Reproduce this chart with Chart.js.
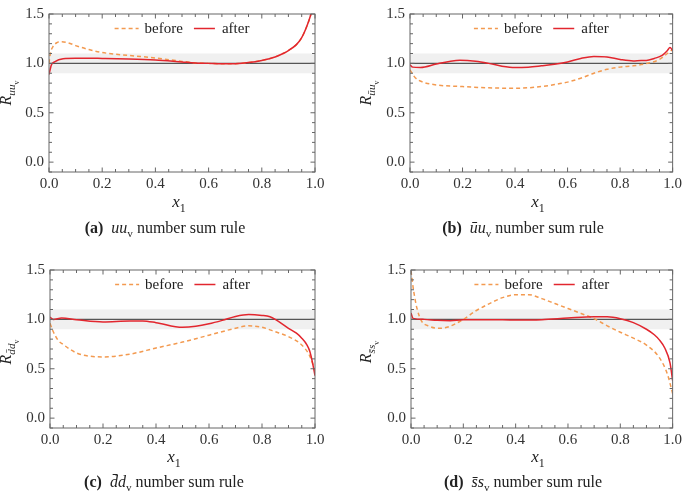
<!DOCTYPE html>
<html>
<head>
<meta charset="utf-8">
<script src="https://cdn.jsdelivr.net/npm/chart.js@4.4.1/dist/chart.umd.min.js"></script>
<style>
  body { margin: 0; background: #fff; width: 685px; height: 491px; position: relative; overflow: hidden;
         font-family: "Liberation Serif", serif; color: #222; }
  canvas { position: absolute; }
  .lbl { position: absolute; font-size: 14px; white-space: nowrap; transform: translate(-50%, -50%); }
  .ytl { transform: translate(-50%, -50%) rotate(-90deg); font-size: 16px; }
  .xtl { font-size: 17px; }
  .cap { font-size: 16px; }
  sub { font-size: 70%; }
</style>
</head>
<body>
<canvas id="chartA" width="342" height="195" style="left:0;top:0"></canvas>
<canvas id="chartB" width="324" height="195" style="left:361px;top:0"></canvas>
<canvas id="chartC" width="342" height="195" style="left:0;top:256px"></canvas>
<canvas id="chartD" width="324" height="195" style="left:361px;top:256px"></canvas>

<div class="lbl ytl" style="left:9px;top:93px"><i>R</i><sub><i>uu</i><sub>v</sub></sub></div>
<div class="lbl ytl" style="left:369px;top:93px"><i>R</i><sub><i>ūu</i><sub>v</sub></sub></div>
<div class="lbl ytl" style="left:9px;top:352px"><i>R</i><sub><i>d̄d</i><sub>v</sub></sub></div>
<div class="lbl ytl" style="left:369px;top:352px"><i>R</i><sub><i>s̄s</i><sub>v</sub></sub></div>

<div class="lbl xtl" style="left:179px;top:204px"><i>x</i><sub>1</sub></div>
<div class="lbl xtl" style="left:538px;top:204px"><i>x</i><sub>1</sub></div>
<div class="lbl xtl" style="left:174px;top:459px"><i>x</i><sub>1</sub></div>
<div class="lbl xtl" style="left:538px;top:459px"><i>x</i><sub>1</sub></div>

<div class="lbl cap" style="left:165px;top:229px"><b>(a)</b>&nbsp; <i>uu</i><sub>v</sub> number sum rule</div>
<div class="lbl cap" style="left:523px;top:229px"><b>(b)</b>&nbsp; <i>ūu</i><sub>v</sub> number sum rule</div>
<div class="lbl cap" style="left:164px;top:483px"><b>(c)</b>&nbsp; <i>d̄d</i><sub>v</sub> number sum rule</div>
<div class="lbl cap" style="left:523px;top:483px"><b>(d)</b>&nbsp; <i>s̄s</i><sub>v</sub> number sum rule</div>

<script>
// axis ticks and reference band
const xTicks = [0, 0.2, 0.4, 0.6, 0.8, 1.0];
const yTicks = [0, 0.5, 1.0, 1.5];
const bandLow = 0.9, bandHigh = 1.1;

// (a) uu_v
const xBeforeA = [0, 0.005, 0.015, 0.03, 0.045, 0.07, 0.1, 0.15, 0.2, 0.3, 0.4, 0.5, 0.55, 0.6, 0.65, 0.7, 0.75, 0.8, 0.85, 0.88, 0.9, 0.93, 0.95, 0.97, 0.985, 0.995];
const yBeforeA = [1.0, 1.1, 1.17, 1.21, 1.22, 1.21, 1.18, 1.14, 1.11, 1.08, 1.055, 1.02, 1.005, 1.0, 0.995, 0.997, 1.008, 1.03, 1.065, 1.1, 1.13, 1.19, 1.26, 1.38, 1.5, 1.6];
const xAfterA = [0, 0.009, 0.021, 0.053, 0.1, 0.2, 0.3, 0.4, 0.5, 0.55, 0.6, 0.65, 0.7, 0.75, 0.8, 0.85, 0.88, 0.9, 0.93, 0.95, 0.97, 0.985, 0.995];
const yAfterA = [0.887, 0.985, 1.016, 1.048, 1.053, 1.05, 1.045, 1.035, 1.015, 1.005, 1.0, 0.995, 0.997, 1.008, 1.03, 1.065, 1.1, 1.13, 1.19, 1.26, 1.38, 1.5, 1.6];

// (b) ubar u_v
const xBeforeB = [0, 0.02, 0.05, 0.1, 0.2, 0.3, 0.4, 0.5, 0.55, 0.6, 0.65, 0.7, 0.75, 0.8, 0.85, 0.9, 0.95, 0.98, 1.0];
const yBeforeB = [0.935, 0.855, 0.81, 0.782, 0.765, 0.752, 0.748, 0.765, 0.785, 0.81, 0.85, 0.9, 0.94, 0.962, 0.975, 0.998, 1.04, 1.1, 1.14];
const xAfterB = [0, 0.01, 0.04, 0.1, 0.15, 0.19, 0.25, 0.3, 0.35, 0.4, 0.45, 0.5, 0.55, 0.6, 0.65, 0.7, 0.75, 0.8, 0.85, 0.88, 0.9, 0.93, 0.96, 0.98, 0.99, 1.0];
const yAfterB = [0.985, 0.962, 0.958, 0.993, 1.02, 1.032, 1.022, 1.0, 0.972, 0.958, 0.962, 0.975, 0.99, 1.015, 1.05, 1.07, 1.065, 1.04, 1.025, 1.03, 1.03, 1.05, 1.08, 1.13, 1.16, 1.13];

// (c) dbar d_v
const xBeforeC = [0, 0.0125, 0.03, 0.05, 0.1, 0.15, 0.2, 0.3, 0.4, 0.5, 0.6, 0.7, 0.75, 0.8, 0.85, 0.9, 0.95, 0.98, 1.0];
const yBeforeC = [0.96, 0.875, 0.79, 0.745, 0.66, 0.627, 0.62, 0.647, 0.71, 0.77, 0.84, 0.91, 0.935, 0.92, 0.875, 0.825, 0.74, 0.63, 0.48];
const xAfterC = [0, 0.012, 0.044, 0.1, 0.2, 0.3, 0.35, 0.4, 0.5, 0.55, 0.6, 0.65, 0.7, 0.75, 0.8, 0.83, 0.85, 0.9, 0.93, 0.95, 0.97, 0.98, 0.99, 1.0];
const yAfterC = [1.023, 1.0, 1.013, 0.997, 0.974, 0.984, 0.984, 0.967, 0.92, 0.93, 0.955, 0.99, 1.03, 1.05, 1.04, 1.026, 1.0, 0.91, 0.86, 0.81, 0.74, 0.68, 0.57, 0.43];

// (d) sbar s_v
const xBeforeD = [0, 0.01, 0.023, 0.04, 0.07, 0.1, 0.13, 0.2, 0.25, 0.3, 0.35, 0.4, 0.45, 0.5, 0.55, 0.6, 0.65, 0.7, 0.75, 0.8, 0.85, 0.9, 0.95, 0.98, 1.0];
const yBeforeD = [1.49, 1.29, 1.11, 0.984, 0.93, 0.91, 0.915, 1.0, 1.09, 1.16, 1.22, 1.25, 1.25, 1.21, 1.16, 1.11, 1.06, 1.007, 0.935, 0.87, 0.81, 0.74, 0.61, 0.446, 0.25];
const xAfterD = [0, 0.008, 0.05, 0.1, 0.15, 0.2, 0.3, 0.4, 0.5, 0.6, 0.7, 0.75, 0.8, 0.85, 0.9, 0.93, 0.95, 0.97, 0.99, 1.0];
const yAfterD = [1.065, 1.01, 1.0, 0.99, 0.987, 0.997, 0.997, 0.993, 0.997, 1.013, 1.026, 1.026, 1.007, 0.967, 0.9, 0.844, 0.79, 0.71, 0.56, 0.38];

const RED = '#e2262e';
const ORANGE = '#f39a50';
const FONT = '"Liberation Serif", serif';

// frame with inward ticks on all four sides, plus the in-plot legend
const framePlugin = {
    id: 'frame',
    afterDatasetsDraw(chart) {
        const { ctx, chartArea: a, scales } = chart;
        ctx.save();
        ctx.strokeStyle = '#666';
        ctx.lineWidth = 1;
        ctx.strokeRect(a.left, a.top, a.right - a.left, a.bottom - a.top);
        ctx.beginPath();
        for (let i = 0; i <= 20; i++) {
            const v = i * 0.05;
            const px = scales.x.getPixelForValue(v);
            const len = xTicks.some(t => Math.abs(t - v) < 1e-6) ? 4.5 : 3;
            ctx.moveTo(px, a.bottom); ctx.lineTo(px, a.bottom - len);
            ctx.moveTo(px, a.top); ctx.lineTo(px, a.top + len);
        }
        for (let i = -1; i <= 15; i++) {
            const v = i * 0.1;
            const py = scales.y.getPixelForValue(v);
            const len = yTicks.some(t => Math.abs(t - v) < 1e-6) ? 4.5 : 3;
            ctx.moveTo(a.left, py); ctx.lineTo(a.left + len, py);
            ctx.moveTo(a.right, py); ctx.lineTo(a.right - len, py);
        }
        ctx.stroke();

        // legend
        const before = chart.data.datasets[1], after = chart.data.datasets[0];
        ctx.font = '15px ' + FONT;
        ctx.textBaseline = 'middle';
        ctx.fillStyle = '#222';
        const w1 = ctx.measureText(before.label).width, w2 = ctx.measureText(after.label).width;
        const total = 24 + 6 + w1 + 11 + 21 + 7 + w2;
        let x = (a.left + a.right) / 2 - total / 2;
        const y = a.top + 14.5;
        ctx.lineWidth = 1.5;
        ctx.strokeStyle = before.borderColor;
        ctx.setLineDash(before.borderDash);
        ctx.beginPath(); ctx.moveTo(x, y); ctx.lineTo(x + 24, y); ctx.stroke();
        x += 30;
        ctx.fillText(before.label, x, y + 1);
        x += w1 + 11;
        ctx.setLineDash([]);
        ctx.strokeStyle = after.borderColor;
        ctx.beginPath(); ctx.moveTo(x, y); ctx.lineTo(x + 21, y); ctx.stroke();
        x += 28;
        ctx.fillText(after.label, x, y + 1);
        ctx.restore();
    }
};

function pts(xs, ys) {
    return xs.map((x, i) => ({ x: x, y: ys[i] }));
}

function makeChart(id, xb, yb, xa, ya, padRight, yWidth) {
    return new Chart(document.getElementById(id), {
        type: 'line',
        data: {
            datasets: [
                { label: 'after', data: pts(xa, ya), borderColor: RED, borderWidth: 1.5, pointRadius: 0,
                  cubicInterpolationMode: 'monotone', order: 0 },
                { label: 'before', data: pts(xb, yb), borderColor: ORANGE, borderWidth: 1.5, borderDash: [4, 3],
                  pointRadius: 0, cubicInterpolationMode: 'monotone', order: 1 },
                { label: 'unity', data: pts([0, 1], [1, 1]), borderColor: '#555', borderWidth: 1.3,
                  pointRadius: 0, order: 2 },
                { label: 'band', data: pts([0, 1], [bandHigh, bandHigh]), borderWidth: 0, borderColor: 'rgba(0,0,0,0)',
                  pointRadius: 0, fill: { value: bandLow }, backgroundColor: '#f0f0f0', order: 3 }
            ]
        },
        options: {
            responsive: false,
            animation: false,
            layout: { padding: { left: 0, right: padRight, top: 8, bottom: 3 } },
            plugins: { legend: { display: false }, tooltip: { enabled: false } },
            scales: {
                x: {
                    type: 'linear', min: 0, max: 1,
                    afterBuildTicks: s => { s.ticks = xTicks.map(v => ({ value: v })); },
                    afterFit: s => { s.height = 20; },
                    grid: { display: false, drawTicks: false },
                    border: { display: false },
                    ticks: { padding: 3, color: '#333', font: { family: FONT, size: 15 }, maxRotation: 0,
                             autoSkip: false, callback: v => v.toFixed(1) }
                },
                y: {
                    type: 'linear', min: -0.1, max: 1.5,
                    afterBuildTicks: s => { s.ticks = yTicks.map(v => ({ value: v })); },
                    afterFit: s => { s.width = yWidth; },
                    grid: { display: false, drawTicks: false },
                    border: { display: false },
                    ticks: { padding: 5, color: '#333', font: { family: FONT, size: 15 },
                             callback: v => v.toFixed(1) }
                }
            }
        },
        plugins: [framePlugin]
    });
}

makeChart('chartA', xBeforeA, yBeforeA, xAfterA, yAfterA, 27, 49);
makeChart('chartB', xBeforeB, yBeforeB, xAfterB, yAfterB, 10, 49);
makeChart('chartC', xBeforeC, yBeforeC, xAfterC, yAfterC, 27, 50);
makeChart('chartD', xBeforeD, yBeforeD, xAfterD, yAfterD, 10, 50);
</script>
</body>
</html>
